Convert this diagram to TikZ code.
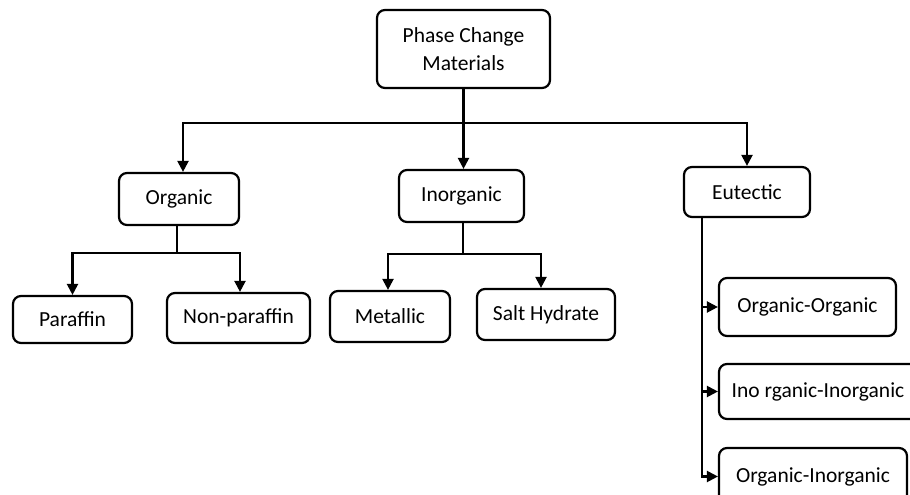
\documentclass[tikz,border=0pt]{standalone}
\usepackage{fontspec}
\setmainfont{Carlito}
\usetikzlibrary{arrows.meta}
\begin{document}
\begin{tikzpicture}[x=1pt,y=-1pt,
  box/.style={draw, line width=2.2pt, rounded corners=8pt, inner sep=0pt, align=center,
    font=\fontsize{21.5}{28}\selectfont},
  arr/.style={line width=2.2pt, -{Triangle[length=11pt,width=11pt]}}]
\useasboundingbox (0,0) rectangle (910,495);
\clip (0,0) rectangle (910,495);
\node[box, minimum width=173pt, minimum height=78pt] (pcm) at (463.5,49) {Phase Change\\Materials};
\node[box, minimum width=120pt, minimum height=52pt] (organic) at (179,199) {Organic};
\node[box, minimum width=125pt, minimum height=52pt] (inorganic) at (461.5,196) {Inorganic};
\node[box, minimum width=126pt, minimum height=50pt] (eutectic) at (747,192) {Eutectic};
\node[box, minimum width=119pt, minimum height=47pt] (paraffin) at (72.5,319.5) {Paraffin};
\node[box, minimum width=143pt, minimum height=50pt] (nonparaffin) at (238.5,318) {Non-paraffin};
\node[box, minimum width=120pt, minimum height=51pt] (metallic) at (390,316.5) {Metallic};
\node[box, minimum width=138pt, minimum height=51pt] (salt) at (546,314.5) {Salt Hydrate};
\node[box, minimum width=177pt, minimum height=58pt] (oo) at (807.5,307) {Organic-Organic};
\node[box, minimum width=206pt, minimum height=55pt] (ii) at (822,391.5) {Ino rganic-Inorganic\hspace*{8pt}};
\node[box, minimum width=188pt, minimum height=57pt] (oi) at (813,476.5) {Organic-Inorganic};
% top level
\draw[arr] (pcm.south) -- ++(0,34) -| ([xshift=4pt]organic.north);
\draw[arr] (pcm.south) -- (pcm.south |- inorganic.north);
\draw[arr] (pcm.south) -- ++(0,34) -| (eutectic.north);
% organic
\draw[arr] ([xshift=-2pt]organic.south) -- ++(0,27) -| (paraffin.north);
\draw[arr] ([xshift=-2pt]organic.south) -- ++(0,27) -| ([xshift=1.5pt]nonparaffin.north);
% inorganic
\draw[arr] ([xshift=1.5pt]inorganic.south) -- ++(0,31) -| ([xshift=-2pt]metallic.north);
\draw[arr] ([xshift=1.5pt]inorganic.south) -- ++(0,31) -| ([xshift=-5pt]salt.north);
% eutectic
\coordinate (es) at ([xshift=-45pt]eutectic.south);
\draw[arr] (es) |- (oo.west);
\draw[arr] (es) |- (ii.west);
\draw[arr] (es) |- (oi.west);
\end{tikzpicture}
\end{document}
